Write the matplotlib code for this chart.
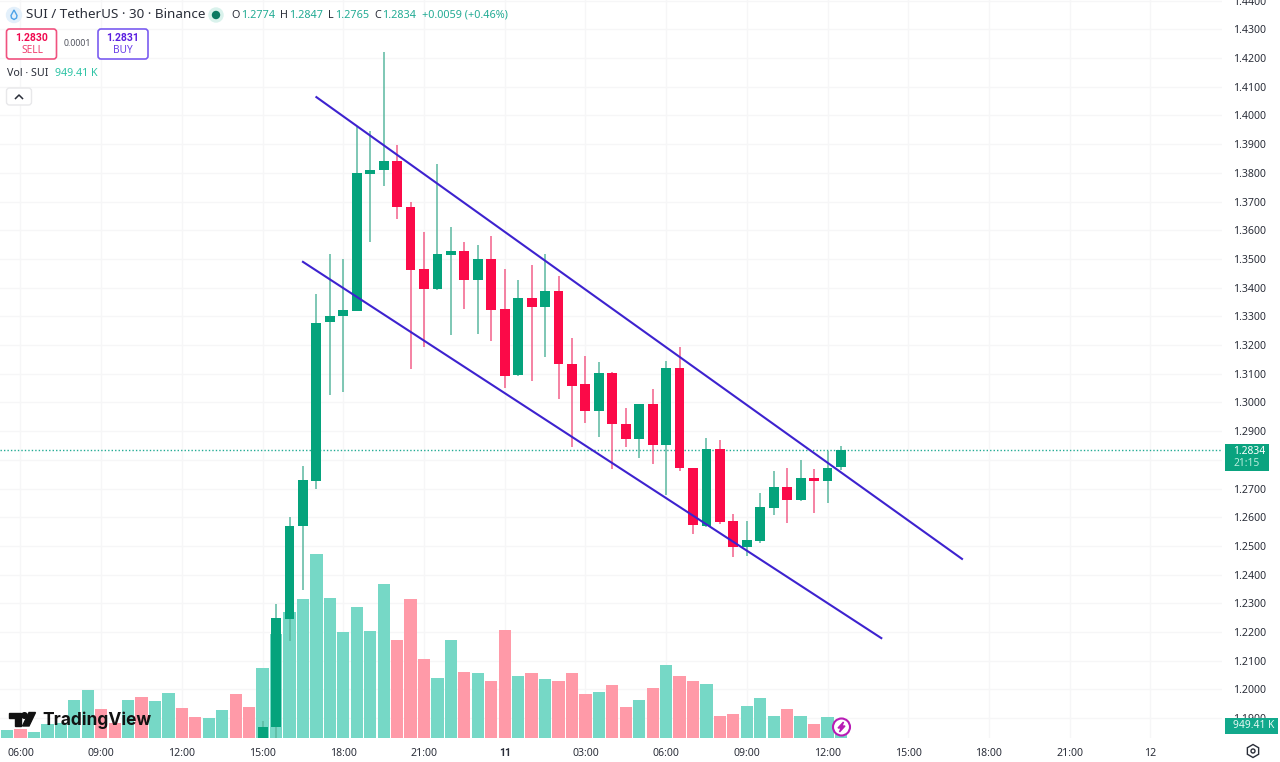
import matplotlib
matplotlib.use("Agg")
from matplotlib import pyplot as plt
from matplotlib.patches import FancyBboxPatch, Circle, Polygon, Rectangle, RegularPolygon

plt.rcParams['font.family'] = ['Noto Sans', 'DejaVu Sans']

# 30 minute candles, bar 0 is 06:00 on the 10th
candle_start = 18
opens = [1.1831, 1.1869, 1.2246, 1.2570, 1.2727, 1.3280, 1.3301, 1.3320, 1.3797, 1.3810,
         1.3843, 1.3682, 1.3465, 1.3395, 1.3515, 1.3529, 1.3428, 1.3500, 1.3326, 1.3097,
         1.3365, 1.3333, 1.3390, 1.3135, 1.3064, 1.2969, 1.3102, 1.2925, 1.2873, 1.2994,
         1.2852, 1.3120, 1.2773, 1.2569, 1.2838, 1.2587, 1.2495, 1.2516, 1.2633, 1.2707,
         1.2659, 1.2736, 1.2727, 1.2774]
highs = [1.1890, 1.2298, 1.2601, 1.2780, 1.3378, 1.3517, 1.3500, 1.3960, 1.3947, 1.4221,
         1.3897, 1.3700, 1.3594, 1.3831, 1.3613, 1.3560, 1.3549, 1.3580, 1.3465, 1.3427,
         1.3480, 1.3517, 1.3442, 1.3226, 1.3163, 1.3142, 1.3105, 1.2980, 1.2996, 1.3046,
         1.3145, 1.3194, 1.2773, 1.2875, 1.2868, 1.2613, 1.2587, 1.2684, 1.2760, 1.2773,
         1.2799, 1.2769, 1.2831, 1.2847]
lows = [1.1825, 1.1831, 1.2169, 1.2347, 1.2700, 1.3026, 1.3037, 1.3318, 1.3559, 1.3755,
        1.3639, 1.3117, 1.3193, 1.3392, 1.3235, 1.3327, 1.3239, 1.3214, 1.3051, 1.3094,
        1.3075, 1.3160, 1.3012, 1.2845, 1.2930, 1.2880, 1.2768, 1.2846, 1.2806, 1.2787,
        1.2678, 1.2762, 1.2542, 1.2567, 1.2578, 1.2461, 1.2465, 1.2509, 1.2608, 1.2581,
        1.2657, 1.2616, 1.2651, 1.2765]
closes = [1.1869, 1.2249, 1.2571, 1.2730, 1.3278, 1.3301, 1.3322, 1.3800, 1.3811, 1.3843,
          1.3681, 1.3463, 1.3395, 1.3517, 1.3529, 1.3428, 1.3500, 1.3322, 1.3093, 1.3365,
          1.3333, 1.3390, 1.3134, 1.3059, 1.2969, 1.3102, 1.2924, 1.2873, 1.2994, 1.2852,
          1.3120, 1.2771, 1.2572, 1.2838, 1.2584, 1.2495, 1.2522, 1.2636, 1.2707, 1.2659,
          1.2736, 1.2726, 1.2773, 1.2834]

# volume in thousands of SUI, first bar is one before 06:00
vol_start = -1
volumes = [660, 710, 450, 1130, 1190, 3030, 3790, 2320, 1190, 3030, 3240, 2950, 3580, 2400,
           1690, 1610, 2190, 3450, 2480, 5560, 8250, 9950, 10980, 14560, 11110, 8370, 10400,
           8430, 12200, 7770, 10980, 6270, 4740, 7770, 5240, 5140, 4500, 8530, 4870, 5160,
           4660, 4500, 5160, 3450, 3660, 4160, 2480, 2980, 3950, 5770, 4870, 4500, 4240,
           1760, 1920, 2550, 3190, 1760, 2270, 1760, 1080, 1640, 949.41]
vol_up = [1, 0, 1, 1, 1, 1, 1, 0, 0, 1, 0, 1, 1, 0, 0, 1, 1, 0, 0, 1, 1, 1, 1, 1, 1, 1, 1,
          1, 1, 0, 0, 0, 1, 1, 0, 1, 0, 0, 1, 0, 1, 0, 0, 0, 1, 0, 0, 1, 0, 1, 0, 0, 1,
          0, 0, 1, 1, 1, 0, 1, 0, 1, 1]

# channel lines as (bar, price) ends
upper_bars = [22, 70]
upper_prices = [1.4064, 1.2455]
lower_bars = [21, 64]
lower_prices = [1.3490, 1.2179]

last_price = 1.2834
time_ticks = [0, 6, 12, 18, 24, 30, 36, 42, 48, 54, 60, 66, 72, 78, 84]
time_labels = ["06:00", "09:00", "12:00", "15:00", "18:00", "21:00", "11", "03:00", "06:00",
               "09:00", "12:00", "15:00", "18:00", "21:00", "12"]
price_ticks = [1.19, 1.20, 1.21, 1.22, 1.23, 1.24, 1.25, 1.26, 1.27, 1.28, 1.29, 1.30, 1.31,
               1.32, 1.33, 1.34, 1.35, 1.36, 1.37, 1.38, 1.39, 1.40, 1.41, 1.42, 1.43, 1.44]

GREEN = '#05a37c'
RED = '#fb0a48'
GREEN_WICK = '#5bb8a0'
RED_WICK = '#f2608a'
VOL_GREEN = '#76d8c6'
VOL_RED = '#ff9aa8'
LINE = '#3d22cf'
TEXT = '#2a2e39'
TEAL = '#22ab94'

fig = plt.figure(figsize=(12.8, 7.62), dpi=100, facecolor='white')
rect = [0, 24 / 762, 1222 / 1280, 738 / 762]
xlim = (-1.524, 89.33)
ylim = (1.18310, 1.44024)

# three layers: grid and ticks, then volume, then candles
price_ax = fig.add_axes(rect, zorder=0)
price_ax.set_xlim(*xlim)
price_ax.set_ylim(*ylim)
price_ax.yaxis.tick_right()
price_ax.set_yticks(price_ticks)
price_ax.set_yticklabels(["%.4f" % p for p in price_ticks], color=TEXT, fontsize=7.6)
price_ax.set_xticks(time_ticks)
price_ax.set_xticklabels(time_labels, color=TEXT, fontsize=7.6)
price_ax.get_xticklabels()[6].set_fontweight('bold')
price_ax.get_xticklabels()[6].set_family('Roboto')
price_ax.tick_params(axis='both', length=0)
price_ax.tick_params(axis='x', pad=7)
price_ax.tick_params(axis='y', pad=8)
price_ax.grid(True, color='#f6f6f7', linewidth=1)
for s in price_ax.spines.values():
    s.set_visible(False)

vol_ax = fig.add_axes(rect, zorder=1, sharex=price_ax)
vol_ax.patch.set_visible(False)
vol_ax.set_ylim(0, 58376)
vol_ax.axis('off')
vol_x = [vol_start + i for i in range(len(volumes))]
vol_colors = [VOL_GREEN if u else VOL_RED for u in vol_up]
vol_ax.bar(vol_x, volumes, width=0.91, color=vol_colors, linewidth=0)

ax = fig.add_axes(rect, zorder=2, sharex=price_ax)
ax.patch.set_visible(False)
ax.set_ylim(*ylim)
ax.axis('off')

ax.axhline(last_price, color=TEAL, linewidth=1, linestyle=(0, (1, 1.5)), zorder=1)

for n in range(len(opens)):
    i = candle_start + n
    up = closes[n] >= opens[n]
    ax.vlines(i, lows[n], highs[n], color=GREEN_WICK if up else RED_WICK, linewidth=1.1, zorder=2)
    ax.bar(i, abs(closes[n] - opens[n]), bottom=min(opens[n], closes[n]), width=0.73,
           color=GREEN if up else RED, linewidth=0, zorder=3)

ax.plot(upper_bars, upper_prices, color=LINE, linewidth=1.5, zorder=4)
ax.plot(lower_bars, lower_prices, color=LINE, linewidth=1.5, zorder=4)

# overlay in pixel units for the legend, badges and logo
ui = fig.add_axes([0, 0, 1, 1], zorder=5)
ui.set_xlim(0, 1280)
ui.set_ylim(762, 0)
ui.axis('off')
ui.patch.set_visible(False)


def label(x, y, s, color=TEXT, size=8, ha='left', weight='normal', family=None):
    kw = {}
    if family:
        kw['family'] = family
    ui.text(x, y, s, color=color, fontsize=size, ha=ha, va='center', fontweight=weight, **kw)


def box(x0, y0, x1, y1, edge, face='white', lw=1.2, r=3):
    ui.add_patch(FancyBboxPatch((x0, y0), x1 - x0, y1 - y0, boxstyle="round,pad=0,rounding_size=%s" % r,
                                edgecolor=edge, facecolor=face, linewidth=lw))


# symbol icon
ui.add_patch(Circle((14, 15), 7.5, color='#e3f0fb'))
ui.add_patch(Polygon([(14, 10), (17, 15.5), (16.5, 18), (14, 19.5), (11.5, 18), (11, 15.5)],
                     closed=True, facecolor='none', edgecolor='#4da3e8', linewidth=1))
label(26, 15, "SUI / TetherUS · 30 · Binance", size=9.7)
ui.add_patch(Circle((216, 15), 7, color='#d9f2ec'))
ui.add_patch(Circle((216, 15), 3.5, color='#0b7a62'))

for lx, vx, letter, val in [(231, 241, "O", "1.2774"), (280, 289, "H", "1.2847"),
                            (328, 335, "L", "1.2765"), (374, 382, "C", "1.2834")]:
    label(lx, 15, letter, size=7.8)
    label(vx, 15, val, color=TEAL, size=7.8)
label(422, 15, "+0.0059 (+0.46%)", color=TEAL, size=7.8)

box(6.5, 29, 56.5, 59, '#f0527f')
label(32, 38, "1.2830", color='#f0094f', size=7.5, ha='center', weight='bold', family='Roboto')
label(32, 50.5, "SELL", color='#f0406f', size=7.3, ha='center')
label(77, 44, "0.0001", color='#50535e', size=6.3, ha='center')
box(98, 29, 148, 59, '#7a5cf0')
label(123, 38, "1.2831", color='#5a1fe0', size=7.5, ha='center', weight='bold', family='Roboto')
label(123, 50.5, "BUY", color='#6a3fe8', size=7.3, ha='center')

label(7, 74, "Vol · SUI", size=7.7)
label(55, 74, "949.41 K", color='#2cc3a4', size=7.7)

box(6.5, 88, 31.5, 105, '#e8e8ea', lw=1)
ui.plot([15.5, 19, 22.5], [98.5, 95, 98.5], color=TEXT, linewidth=1.1)

# TradingView logo
ui.add_patch(Polygon([(9, 712.5), (21, 712.5), (21, 726), (15, 726), (15, 718.3), (9, 718.3)],
                     closed=True, color='#111111'))
ui.add_patch(Circle((24.5, 715.5), 2.8, color='#111111'))
ui.add_patch(Polygon([(29, 712.5), (35.5, 712.5), (29, 726), (22.5, 726)], closed=True, color='#111111'))
label(42, 720.5, "TradingView", color='#111111', size=12.5, weight='bold', family='Inter')

# price and volume badges on the scale
ui.add_patch(Rectangle((1225, 444), 44, 27, color='#0aa37f', linewidth=0))
label(1233, 451.5, "1.2834", color='white', size=7.4)
label(1233, 463.5, "21:15", color='#b9ebdd', size=7.4)
ui.add_patch(Rectangle((1225, 718), 52.5, 15.5, color='#12a98c', linewidth=0))
label(1233, 726, "949.41 K", color='#e6f8f3', size=7.4)

# scale settings button
ui.add_patch(RegularPolygon((1253, 751), 6, radius=6.5, facecolor='none', edgecolor=TEXT, linewidth=1))
ui.add_patch(Circle((1253, 751), 2, facecolor='none', edgecolor=TEXT, linewidth=1))

# lightning marker on the last bar
ui.add_patch(Circle((841.5, 727), 8.5, facecolor='white', edgecolor='#b81bb5', linewidth=1.5))
ui.add_patch(Polygon([(843.5, 722), (838, 728), (841, 728), (839.5, 732), (845, 726), (842, 726)],
                     closed=True, color='#b81bb5'))

fig.savefig("out.png", dpi=100)
